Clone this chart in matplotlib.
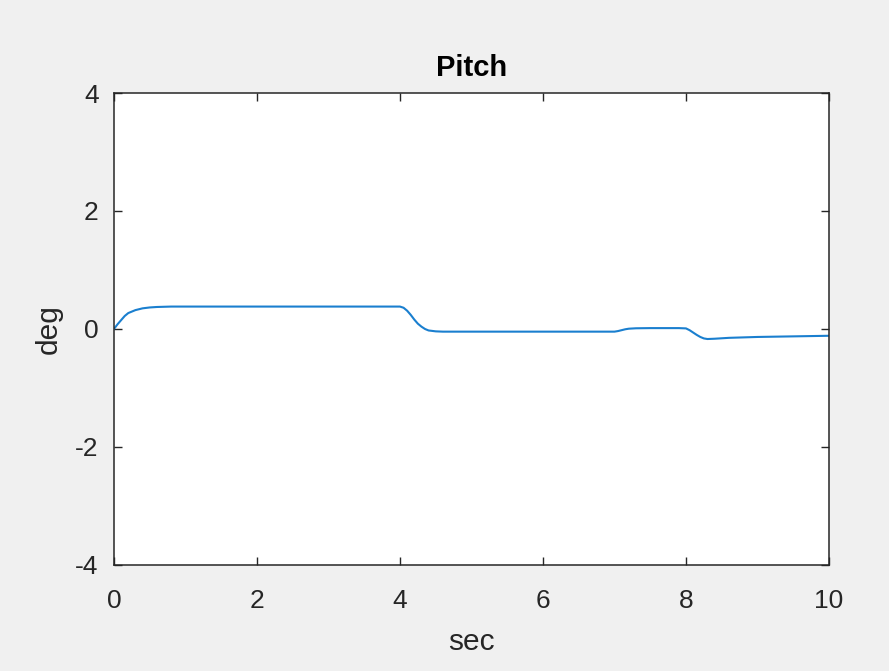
import numpy as np
import matplotlib.pyplot as plt

# pitch response (sec, deg)
t_sec = [0.0, 0.05, 0.1, 0.15, 0.2, 0.3, 0.4, 0.5, 0.6, 0.8,
         4.0, 4.05, 4.1, 4.15, 4.2, 4.25, 4.3, 4.35, 4.4, 4.5, 4.6,
         7.0, 7.05, 7.1, 7.15, 7.2, 7.3, 7.5, 7.9, 8.0,
         8.05, 8.1, 8.15, 8.2, 8.25, 8.3, 8.4, 8.6, 9.0, 9.5, 10.0]
pitch_deg = [0.0, 0.08, 0.15, 0.22, 0.27, 0.32, 0.35, 0.365, 0.373, 0.38,
             0.38, 0.36, 0.31, 0.24, 0.16, 0.09, 0.04, 0.0, -0.025, -0.04, -0.045,
             -0.045, -0.035, -0.02, -0.005, 0.005, 0.012, 0.015, 0.015, 0.01,
             -0.02, -0.06, -0.1, -0.135, -0.16, -0.17, -0.165, -0.15, -0.135, -0.125, -0.115]

x_ticks = [0, 2, 4, 6, 8, 10]
y_ticks = [-4, -2, 0, 2, 4]

plt.rcParams['font.family'] = ['Liberation Sans', 'DejaVu Sans']
plt.rcParams['axes.unicode_minus'] = False

fig = plt.figure(figsize=(8.89, 6.71), dpi=100, facecolor='#f0f0f0')
ax = fig.add_axes([0.1282, 0.158, 0.8043, 0.7034])
ax.set_facecolor('white')

ax.plot(t_sec, pitch_deg, color='#1a7fcf', lw=1.5)

ax.set_xlim(0, 10)
ax.set_ylim(-4, 4)
ax.set_xticks(x_ticks)
ax.set_yticks(y_ticks)

axc = '#262626'
for s in ax.spines.values():
    s.set_color(axc)
    s.set_linewidth(1.1)
ax.tick_params(direction='in', length=5.5, width=1.0, color=axc, labelcolor=axc,
               labelsize=19, top=True, right=True)
ax.tick_params(axis='x', pad=17)
ax.tick_params(axis='y', pad=11)

ax.set_title('Pitch', fontsize=21, fontweight='bold', color='black', pad=12)
ax.set_xlabel('sec', fontsize=21.5, color=axc, labelpad=11)
ax.set_ylabel('deg', fontsize=21.5, color=axc, labelpad=9)

fig.savefig('out.png', dpi=100, facecolor=fig.get_facecolor())
